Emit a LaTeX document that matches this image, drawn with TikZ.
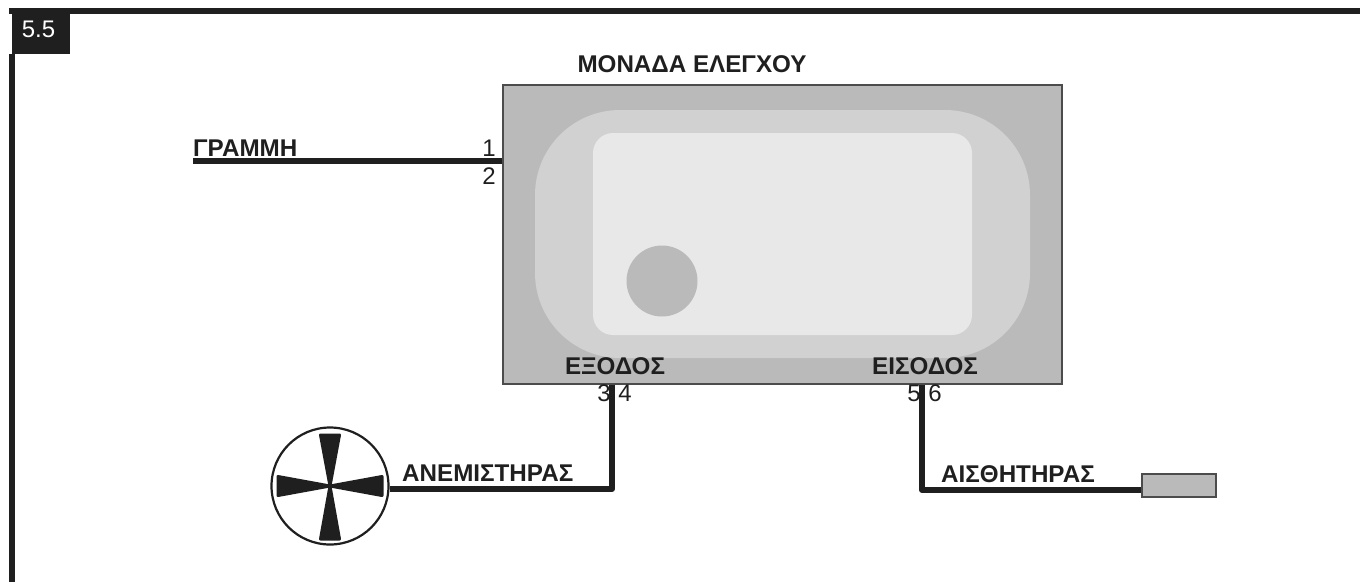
\documentclass[tikz,border=0pt]{standalone}
\usepackage{fontspec}
\setmainfont{Liberation Sans}
\definecolor{inkdark}{gray}{0.12}
\begin{document}
\begin{tikzpicture}[
  x=1pt, y=-1pt,
  unitbox/.style={draw=black!70, line width=1.5pt, fill=black!27, inner sep=0pt, minimum width=559pt, minimum height=299pt},
  midbox/.style={fill=black!18, rounded corners=85pt, inner sep=0pt, minimum width=495pt, minimum height=248pt},
  topbox/.style={fill=black!9, rounded corners=20pt, inner sep=0pt, minimum width=379pt, minimum height=202pt},
  wire/.style={line width=6pt, draw=inkdark, line join=round},
  frameline/.style={line width=6pt, draw=inkdark},
  heading/.style={font=\fontsize{24.2}{26}\bfseries\selectfont, text=inkdark, inner sep=0pt},
  pin/.style={font=\fontsize{24}{26}\selectfont, text=inkdark, inner sep=0pt},
  blade/.style={fill=inkdark, draw=inkdark, line width=3pt, line join=round},
]
\useasboundingbox (0,0) rectangle (1360,582);

% Frame and number tab
\node[fill=inkdark, inner sep=0pt, minimum width=58pt, minimum height=41pt] (tab) at (40.5,33.5) {};
\node[text=white, font=\fontsize{24}{26}\selectfont, inner sep=0pt] (tablabel) at (38.5,29.5) {5.5};
\coordinate (frameA) at (9,11);
\coordinate (frameB) at (1360,11);
\coordinate (frameC) at (12,582);
\draw[frameline] (frameA) -- (frameB);
\draw[frameline] (tab.south west -| frameC) -- (frameC);

% Control unit
\node[unitbox] (unit) at (782.5,234.5) {};
\node[midbox] (mid) at (782.5,234) {};
\node[topbox] (top) at (782.5,234) {};
\node[circle, fill=black!27, inner sep=0pt, minimum size=71pt] (knob) at (662,281) {};
\node[heading] (unitlabel) at (692,64) {ΜΟΝΑΔΑ ΕΛΕΓΧΟΥ};
\node[heading] (outlabel) at (615,366) {ΕΞΟΔΟΣ};
\node[heading] (inlabel) at (925,366) {ΕΙΣΟΔΟΣ};

% Line
\coordinate (lineend) at (193,161);
\node[heading, anchor=west] (linelabel) at (193,148) {ΓΡΑΜΜΗ};
\draw[wire] (lineend) -- (lineend -| unit.west);
\node[pin] (pinA) at (489,148) {1};
\node[pin] (pinB) at (489,176) {2};

% Fan
\node[circle, draw=inkdark, line width=2.2pt, fill=white, inner sep=0pt, minimum size=117pt] (fan) at (330,486) {};
\draw[blade] (330,486) -- (320.5,435) -- (339.5,435) -- cycle;
\draw[blade] (330,486) -- (320.5,539) -- (339.5,539) -- cycle;
\draw[blade] (330,486) -- (278,476.5) -- (278,495.5) -- cycle;
\draw[blade] (330,486) -- (382,476.5) -- (382,495.5) -- cycle;

% Output wire
\coordinate (outbend) at (612,489);
\path (outbend |- unit.south) coordinate (outtop);
\path (outbend -| fan.east) coordinate (outend);
\draw[wire] (outtop) -- (outbend) -- (outend);
\node[pin] (pinC) at (604,393) {3};
\node[pin] (pinD) at (625,393) {4};
\node[heading, anchor=west] (fanlabel) at (402,473) {ΑΝΕΜΙΣΤΗΡΑΣ};

% Sensor and input wire
\node[draw=black!70, line width=1.3pt, fill=black!27, inner sep=0pt, minimum width=74pt, minimum height=23pt] (sensor) at (1179,485.5) {};
\coordinate (inbend) at (922,490);
\path (inbend |- unit.south) coordinate (intop);
\draw[wire] (intop) -- (inbend) -- (sensor.west |- inbend);
\node[pin] (pinE) at (914,393) {5};
\node[pin] (pinF) at (935,393) {6};
\node[heading, anchor=west] (sensorlabel) at (941,474) {ΑΙΣΘΗΤΗΡΑΣ};

\end{tikzpicture}
\end{document}
